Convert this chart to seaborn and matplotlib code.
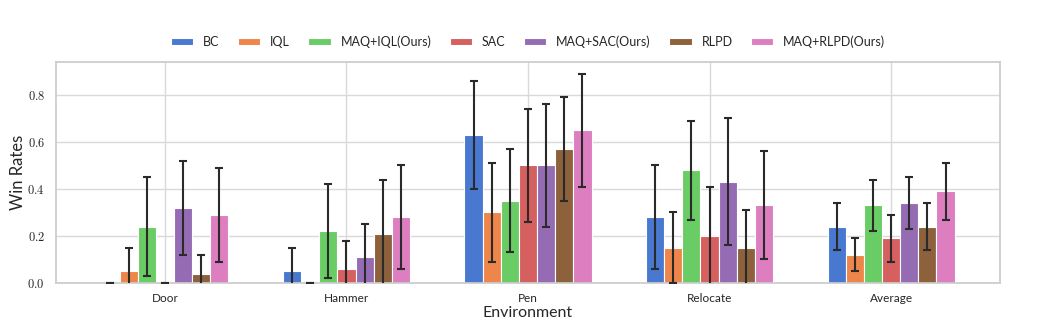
import numpy as np
import pandas as pd
import matplotlib
matplotlib.use("Agg")
import matplotlib.pyplot as plt
import seaborn as sns

environments = ["Door", "Hammer", "Pen", "Relocate", "Average"]
methods = ["BC", "IQL", "MAQ+IQL(Ours)", "SAC", "MAQ+SAC(Ours)", "RLPD", "MAQ+RLPD(Ours)"]

# mean win rate per method, one entry per environment
bc_mean = [0.00, 0.05, 0.63, 0.28, 0.24]
iql_mean = [0.05, 0.00, 0.30, 0.15, 0.12]
maq_iql_mean = [0.24, 0.22, 0.35, 0.48, 0.33]
sac_mean = [0.00, 0.06, 0.50, 0.20, 0.19]
maq_sac_mean = [0.32, 0.11, 0.50, 0.43, 0.34]
rlpd_mean = [0.04, 0.21, 0.57, 0.15, 0.24]
maq_rlpd_mean = [0.29, 0.28, 0.65, 0.33, 0.39]

# half-width of the error bar per method
bc_err = [0.00, 0.10, 0.23, 0.22, 0.10]
iql_err = [0.10, 0.00, 0.21, 0.15, 0.07]
maq_iql_err = [0.21, 0.20, 0.22, 0.21, 0.11]
sac_err = [0.00, 0.12, 0.24, 0.21, 0.10]
maq_sac_err = [0.20, 0.14, 0.26, 0.27, 0.11]
rlpd_err = [0.08, 0.23, 0.22, 0.16, 0.10]
maq_rlpd_err = [0.20, 0.22, 0.24, 0.23, 0.12]

means = [bc_mean, iql_mean, maq_iql_mean, sac_mean, maq_sac_mean, rlpd_mean, maq_rlpd_mean]
errs = [bc_err, iql_err, maq_iql_err, sac_err, maq_sac_err, rlpd_err, maq_rlpd_err]

rows = []
for m, mv, ev in zip(methods, means, errs):
    for env, v, e in zip(environments, mv, ev):
        rows.append({"Environment": env, "Method": m, "Win Rates": v, "err": e})
df = pd.DataFrame(rows)

sns.set_theme(style="whitegrid")
plt.rcParams["font.family"] = ["Lato", "DejaVu Sans"]
plt.rcParams["mathtext.fontset"] = "cm"

fig = plt.figure(figsize=(10.44, 3.28), dpi=100)
ax = fig.add_axes([56 / 1044, 1 - 283 / 328, 944 / 1044, 221 / 328])

palette = sns.color_palette("muted", 7)
sns.barplot(data=df, x="Environment", y="Win Rates", hue="Method",
            order=environments, hue_order=methods, palette=palette,
            saturation=1, width=0.7, errorbar=None, edgecolor="white",
            linewidth=0.8, legend=True, ax=ax)

# error bars centred on each drawn bar
for i, m in enumerate(methods):
    cont = ax.containers[i]
    xs = [p.get_x() + p.get_width() / 2 for p in cont.patches]
    ys = [p.get_height() for p in cont.patches]
    ax.errorbar(xs, ys, yerr=errs[i], fmt="none", ecolor="#2a2a2a",
                elinewidth=1.5, capsize=3, capthick=1.5, zorder=5)

ax.set_axisbelow(True)
ax.xaxis.grid(True, color="#d9d9d9", linewidth=1)
ax.yaxis.grid(True, color="#d9d9d9", linewidth=1)
ax.set_xlim(-0.6, 4.6)
ax.set_ylim(0, 0.94)
ax.set_yticks([0.0, 0.2, 0.4, 0.6, 0.8])
ax.set_yticklabels([f"${t:.1f}$" for t in [0.0, 0.2, 0.4, 0.6, 0.8]], fontsize=9)
ax.tick_params(axis="x", labelsize=8.5, pad=1)
ax.tick_params(axis="y", pad=2)
ax.set_xlabel("Environment", fontsize=11.5)
ax.set_ylabel("Win Rates", fontsize=12)
ax.xaxis.set_label_coords(0.5, -0.103)
ax.yaxis.set_label_coords(-0.032, 0.5)
for s in ax.spines.values():
    s.set_color("#cccccc")

handles, labels = ax.get_legend_handles_labels()
ax.legend(handles, labels, loc="lower center", bbox_to_anchor=(0.5, 1.013),
          ncol=7, frameon=False, fontsize=9, handlelength=1.8, handleheight=0.6,
          columnspacing=1.45, handletextpad=0.8)

fig.savefig("out.png", dpi=100)
